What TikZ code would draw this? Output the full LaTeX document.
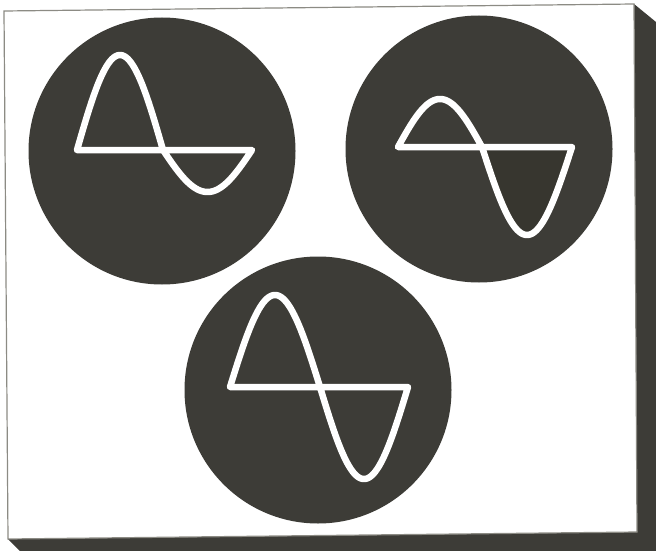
\documentclass[tikz,border=0pt]{standalone}
\usetikzlibrary{positioning}
\definecolor{ink}{HTML}{3D3C37}
\definecolor{inkfill}{HTML}{37362F}
\definecolor{rim}{HTML}{8C8B84}
\tikzset{
  disc/.style   = {circle, fill=ink, draw=none, minimum size=267pt, inner sep=0pt},
  wave/.style   = {draw=white, line width=6.5pt, line join=round},
  panel/.style  = {fill=white, draw=rim, line width=1.2pt},
  shade/.style  = {fill=ink, draw=none}
}

\begin{document}
\begin{tikzpicture}[x=1pt, y=-1pt]
  \useasboundingbox (0,0) rectangle (656,551);

  % --- Card with its drop shadow ------------------------------------------
  \fill[shade] (634,4) -- (656,22) -- (656,551) -- (20,551) -- (8,539) -- cycle;
  \draw[panel] (4,11) -- (634,4) -- (637,532) -- (8,539) -- cycle;

  % --- Three discs ----------------------------------------------------------
  \node[disc] (left)   at (162,151) {};
  \node[disc] (right)  at (479,149) {};
  \node[disc] (bottom) at (318,390) {};

  % --- Waves ------------------------------------------------------------------
  % clipped negative half
  \draw[wave] (77,150)
    -- plot[domain=0:180, samples=60] ({77+86*\x/180},{150-95*sin(\x)})
    -- plot[domain=0:180, samples=60] ({163+89*\x/180},{150+42*sin(\x)})
    -- cycle;

  % small positive half, filled negative half
  \fill[inkfill] (482,147)
    -- plot[domain=0:180, samples=60] ({482+90*\x/180},{147+88*sin(\x)})
    -- cycle;
  \draw[wave] (398,147)
    -- plot[domain=0:180, samples=60] ({398+84*\x/180},{147-48*sin(\x)})
    -- plot[domain=0:180, samples=60] ({482+90*\x/180},{147+88*sin(\x)})
    -- cycle;

  % full sine
  \draw[wave] (230,387)
    -- plot[domain=0:180, samples=60] ({230+90*\x/180},{387-92*sin(\x)})
    -- plot[domain=0:180, samples=60] ({320+88*\x/180},{387+92*sin(\x)})
    -- cycle;

\end{tikzpicture}
\end{document}
